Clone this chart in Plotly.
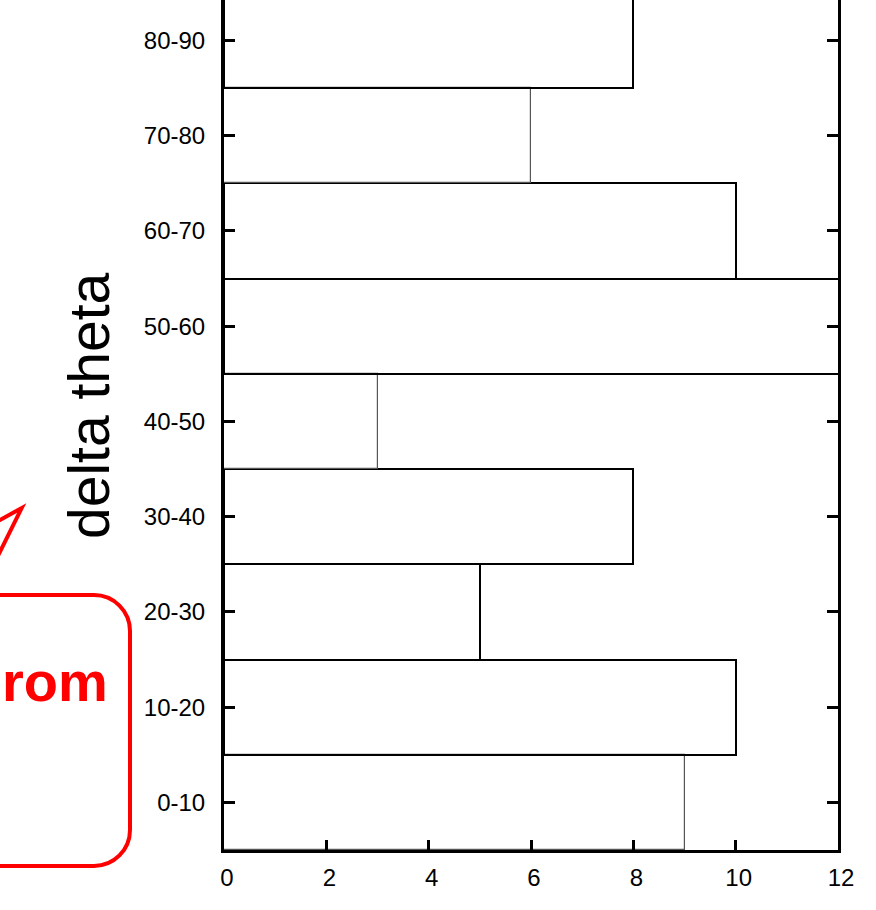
import plotly.graph_objects as go

# Histogram of delta theta bins (counts per 10-degree bin)
bins = ["0-10", "10-20", "20-30", "30-40", "40-50", "50-60", "60-70", "70-80", "80-90"]
counts = [9, 10, 5, 8, 3, 13, 10, 6, 8]
x_ticks = [0, 2, 4, 6, 8, 10, 12]
edge_widths = [1.2, 2, 2, 2, 1.2, 2, 2, 1.2, 2]
edge_colors = ["#555" if w < 2 else "#000" for w in edge_widths]

W, H = 876, 910
L, R, T, B = 224, 838, 0, 850  # plot area in pixels


def px_x(px):
    return (px - L) / (R - L)


def px_y(py):
    return (B - py) / (B - T)


fig = go.Figure()
fig.add_trace(go.Bar(
    y=bins, x=counts, orientation="h", width=1,
    marker=dict(color="rgba(0,0,0,0)",
                line=dict(color=edge_colors, width=edge_widths)),
    hoverinfo="skip", showlegend=False,
))

tick_font = dict(family="Liberation Sans, Arial, sans-serif", size=24, color="#000")

fig.update_xaxes(
    range=[0, 12], tickvals=x_ticks, ticks="inside", ticklen=10, tickwidth=2.5,
    tickcolor="#000", showline=True, linewidth=3, linecolor="#000",
    showgrid=False, zeroline=False, mirror=False, tickfont=tick_font,
    ticklabelstandoff=4, ticklabelshift=3,
)
fig.update_yaxes(
    type="category", range=[-0.5, 8.424], ticks="inside", ticklen=11, tickwidth=2.5,
    tickcolor="#000", showline=True, linewidth=3, linecolor="#000",
    showgrid=False, zeroline=False, mirror="ticks", tickfont=tick_font,
    ticklabelstandoff=11,
)


def rounded_box(x0, y0, x1, y1, r):
    k = 0.5523 * r
    pts = [
        ("M", [(x0, y0)]),
        ("L", [(x1 - r, y0)]),
        ("C", [(x1 - r + k, y0), (x1, y0 + r - k), (x1, y0 + r)]),
        ("L", [(x1, y1 - r)]),
        ("C", [(x1, y1 - r + k), (x1 - r + k, y1), (x1 - r, y1)]),
        ("L", [(x0, y1)]),
    ]
    out = []
    for cmd, ps in pts:
        out.append(cmd + " " + " ".join(f"{px_x(a):.5f},{px_y(b):.5f}" for a, b in ps))
    return " ".join(out)


def polyline(points):
    return "M " + " L ".join(f"{px_x(a):.5f},{px_y(b):.5f}" for a, b in points)


red = "#ff0000"
fig.add_shape(type="path", xref="paper", yref="paper",
              path=rounded_box(-80, 595, 130, 866, 36),
              line=dict(color=red, width=4), fillcolor="rgba(0,0,0,0)")
fig.add_shape(type="path", xref="paper", yref="paper",
              path=polyline([(-40, 542), (21.7, 508), (-20, 592)]),
              line=dict(color=red, width=4), fillcolor="rgba(0,0,0,0)")

fig.add_annotation(
    text="rom", xref="paper", yref="paper", x=px_x(109), y=px_y(681),
    xanchor="right", yanchor="middle", showarrow=False, borderpad=0,
    font=dict(family="Liberation Sans, Arial, sans-serif",
              size=56, color=red, weight="bold"),
)
fig.add_annotation(
    text="delta theta", xref="paper", yref="paper", x=px_x(89), y=px_y(406),
    xanchor="center", yanchor="middle", textangle=-90, showarrow=False,
    font=dict(family="Liberation Sans, Arial, sans-serif", size=57, color="#000"),
)

fig.update_layout(
    width=W, height=H, margin=dict(l=L, r=W - R, t=T, b=H - B, pad=0),
    paper_bgcolor="white", plot_bgcolor="white", bargap=0,
)

fig.write_html("out.html")
